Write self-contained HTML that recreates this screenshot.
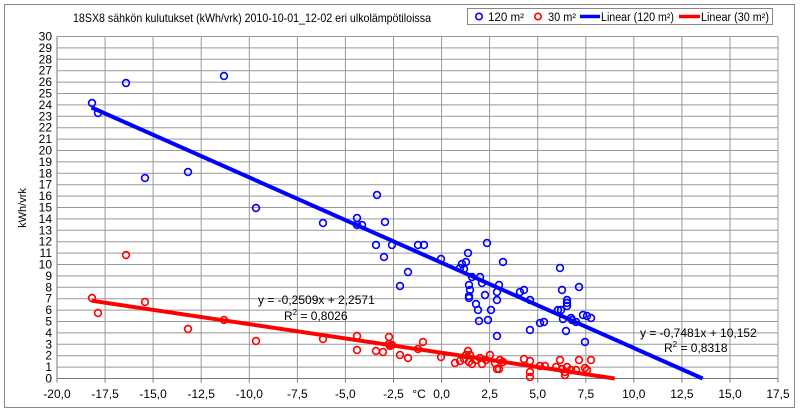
<!DOCTYPE html><html><head><meta charset="utf-8"><style>body{margin:0;background:#fff}svg{display:block;font-family:"Liberation Sans",sans-serif}</style></head><body>
<svg width="800" height="413" viewBox="0 0 800 413">
<rect x="4.5" y="4.5" width="790" height="403" fill="#fff" stroke="#888"/>
<g stroke="#999" stroke-width="1" fill="none">
<path d="M57 367.1H778M57 355.7H778M57 344.3H778M57 332.9H778M57 321.5H778M57 310.1H778M57 298.7H778M57 287.3H778M57 275.9H778M57 264.5H778M57 253.1H778M57 241.7H778M57 230.3H778M57 218.9H778M57 207.5H778M57 196.1H778M57 184.7H778M57 173.3H778M57 161.9H778M57 150.5H778M57 139.1H778M57 127.7H778M57 116.3H778M57 104.9H778M57 93.5H778M57 82.1H778M57 70.7H778M57 59.3H778M57 47.9H778M57 36.5H778"/>
<path d="M105.1 36.5V378.5M153.1 36.5V378.5M201.2 36.5V378.5M249.3 36.5V378.5M297.4 36.5V378.5M345.4 36.5V378.5M393.5 36.5V378.5M441.6 36.5V378.5M489.6 36.5V378.5M537.7 36.5V378.5M585.8 36.5V378.5M633.8 36.5V378.5M681.9 36.5V378.5M730 36.5V378.5M778 36.5V378.5"/>
</g>
<path d="M57 36.5V378.5H778" stroke="#777" fill="none"/>
<g stroke="#777"><path d="M57 378.5v4M105.1 378.5v4M153.1 378.5v4M201.2 378.5v4M249.3 378.5v4M297.4 378.5v4M345.4 378.5v4M393.5 378.5v4M441.6 378.5v4M489.6 378.5v4M537.7 378.5v4M585.8 378.5v4M633.8 378.5v4M681.9 378.5v4M730 378.5v4M778 378.5v4"/></g>
<g font-size="12" fill="#000" text-anchor="end">
<text x="52" y="382.5">0</text><text x="52" y="371.1">1</text><text x="52" y="359.7">2</text><text x="52" y="348.3">3</text><text x="52" y="336.9">4</text><text x="52" y="325.5">5</text><text x="52" y="314.1">6</text><text x="52" y="302.7">7</text><text x="52" y="291.3">8</text><text x="52" y="279.9">9</text><text x="52" y="268.5">10</text><text x="52" y="257.1">11</text><text x="52" y="245.7">12</text><text x="52" y="234.3">13</text><text x="52" y="222.9">14</text><text x="52" y="211.5">15</text><text x="52" y="200.1">16</text><text x="52" y="188.7">17</text><text x="52" y="177.3">18</text><text x="52" y="165.9">19</text><text x="52" y="154.5">20</text><text x="52" y="143.1">21</text><text x="52" y="131.7">22</text><text x="52" y="120.3">23</text><text x="52" y="108.9">24</text><text x="52" y="97.5">25</text><text x="52" y="86.1">26</text><text x="52" y="74.7">27</text><text x="52" y="63.3">28</text><text x="52" y="51.9">29</text><text x="52" y="40.5">30</text>
</g>
<g font-size="12" fill="#000" text-anchor="middle">
<text x="57" y="398">-20,0</text><text x="105.1" y="398">-17,5</text><text x="153.1" y="398">-15,0</text><text x="201.2" y="398">-12,5</text><text x="249.3" y="398">-10,0</text><text x="297.4" y="398">-7,5</text><text x="345.4" y="398">-5,0</text><text x="393.5" y="398">-2,5</text><text x="441.6" y="398">0,0</text><text x="489.6" y="398">2,5</text><text x="537.7" y="398">5,0</text><text x="585.8" y="398">7,5</text><text x="633.8" y="398">10,0</text><text x="681.9" y="398">12,5</text><text x="730" y="398">15,0</text><text x="778" y="398">17,5</text>
<text x="419" y="398">°C</text>
</g>
<text transform="translate(26 208) rotate(-90)" font-size="11" text-anchor="middle">kWh/vrk</text>
<text x="73" y="22" font-size="12" textLength="358" lengthAdjust="spacingAndGlyphs">18SX8 sähkön kulutukset (kWh/vrk) 2010-10-01_12-02 eri ulkolämpötiloissa</text>
<rect x="467.5" y="8.5" width="305" height="16" fill="#fff" stroke="#888"/>
<g font-size="11.5">
<circle cx="479" cy="16.5" r="3.2" fill="none" stroke="#00f" stroke-width="1.6"/><text x="488" y="21" textLength="36" lengthAdjust="spacingAndGlyphs">120 m²</text>
<circle cx="538" cy="16.5" r="3.2" fill="none" stroke="#f00" stroke-width="1.6"/><text x="548" y="21" textLength="28" lengthAdjust="spacingAndGlyphs">30 m²</text>
<path d="M580 16.5h20" stroke="#00f" stroke-width="3.5"/><text x="601" y="21" textLength="73" lengthAdjust="spacingAndGlyphs">Linear (120 m²)</text>
<path d="M679 16.5h21" stroke="#f00" stroke-width="3.5"/><text x="701" y="21" textLength="68" lengthAdjust="spacingAndGlyphs">Linear (30 m²)</text>
</g>
<g fill="none" stroke="#00f" stroke-width="1.6">
<circle cx="92" cy="103" r="3.4"/><circle cx="98" cy="113" r="3.4"/><circle cx="126" cy="83" r="3.4"/><circle cx="224" cy="76" r="3.4"/><circle cx="145" cy="178" r="3.4"/><circle cx="188" cy="172" r="3.4"/><circle cx="256" cy="208" r="3.4"/><circle cx="323" cy="223" r="3.4"/><circle cx="357" cy="218" r="3.4"/><circle cx="357" cy="225" r="3.4"/><circle cx="362" cy="225" r="3.4"/><circle cx="377" cy="195" r="3.4"/><circle cx="385" cy="222" r="3.4"/><circle cx="376" cy="245" r="3.4"/><circle cx="384" cy="257" r="3.4"/><circle cx="392" cy="245" r="3.4"/><circle cx="408" cy="272" r="3.4"/><circle cx="400" cy="286" r="3.4"/><circle cx="418" cy="245" r="3.4"/><circle cx="424" cy="245" r="3.4"/><circle cx="441" cy="259" r="3.4"/><circle cx="460" cy="268" r="3.4"/><circle cx="462" cy="264" r="3.4"/><circle cx="464" cy="269" r="3.4"/><circle cx="466" cy="262" r="3.4"/><circle cx="468" cy="253" r="3.4"/><circle cx="469" cy="285" r="3.4"/><circle cx="469" cy="296" r="3.4"/><circle cx="469" cy="298" r="3.4"/><circle cx="470" cy="290" r="3.4"/><circle cx="472" cy="277" r="3.4"/><circle cx="476" cy="304" r="3.4"/><circle cx="478" cy="310" r="3.4"/><circle cx="479" cy="321" r="3.4"/><circle cx="485" cy="295" r="3.4"/><circle cx="480" cy="277" r="3.4"/><circle cx="482" cy="283" r="3.4"/><circle cx="487" cy="243" r="3.4"/><circle cx="488" cy="320" r="3.4"/><circle cx="491" cy="310" r="3.4"/><circle cx="497" cy="292" r="3.4"/><circle cx="497" cy="300" r="3.4"/><circle cx="497" cy="336" r="3.4"/><circle cx="499" cy="285" r="3.4"/><circle cx="503" cy="262" r="3.4"/><circle cx="520" cy="292" r="3.4"/><circle cx="524" cy="290" r="3.4"/><circle cx="530" cy="300" r="3.4"/><circle cx="530" cy="330" r="3.4"/><circle cx="540" cy="323" r="3.4"/><circle cx="544" cy="322" r="3.4"/><circle cx="558" cy="310" r="3.4"/><circle cx="561" cy="310" r="3.4"/><circle cx="560" cy="268" r="3.4"/><circle cx="562" cy="290" r="3.4"/><circle cx="563" cy="319" r="3.4"/><circle cx="566" cy="331" r="3.4"/><circle cx="567" cy="300" r="3.4"/><circle cx="567" cy="306" r="3.4"/><circle cx="567" cy="303" r="3.4"/><circle cx="571" cy="318" r="3.4"/><circle cx="572" cy="320" r="3.4"/><circle cx="576" cy="322" r="3.4"/><circle cx="579" cy="287" r="3.4"/><circle cx="583" cy="315" r="3.4"/><circle cx="585" cy="342" r="3.4"/><circle cx="587" cy="316" r="3.4"/><circle cx="591" cy="318" r="3.4"/>
</g>
<g fill="none" stroke="#f00" stroke-width="1.6">
<circle cx="92" cy="298" r="3.4"/><circle cx="98" cy="313" r="3.4"/><circle cx="126" cy="255" r="3.4"/><circle cx="145" cy="302" r="3.4"/><circle cx="188" cy="329" r="3.4"/><circle cx="224" cy="320" r="3.4"/><circle cx="256" cy="341" r="3.4"/><circle cx="323" cy="339" r="3.4"/><circle cx="357" cy="336" r="3.4"/><circle cx="357" cy="350" r="3.4"/><circle cx="376" cy="351" r="3.4"/><circle cx="383" cy="352" r="3.4"/><circle cx="389" cy="344" r="3.4"/><circle cx="389" cy="337" r="3.4"/><circle cx="390" cy="346" r="3.4"/><circle cx="392" cy="345" r="3.4"/><circle cx="400" cy="355" r="3.4"/><circle cx="408" cy="358" r="3.4"/><circle cx="418" cy="349" r="3.4"/><circle cx="423" cy="342" r="3.4"/><circle cx="441" cy="357" r="3.4"/><circle cx="455" cy="363" r="3.4"/><circle cx="460" cy="361" r="3.4"/><circle cx="464" cy="359" r="3.4"/><circle cx="466" cy="355" r="3.4"/><circle cx="468" cy="351" r="3.4"/><circle cx="469" cy="362" r="3.4"/><circle cx="470" cy="355" r="3.4"/><circle cx="472" cy="364" r="3.4"/><circle cx="476" cy="360" r="3.4"/><circle cx="480" cy="358" r="3.4"/><circle cx="482" cy="364" r="3.4"/><circle cx="486" cy="360" r="3.4"/><circle cx="490" cy="355" r="3.4"/><circle cx="495" cy="363" r="3.4"/><circle cx="497" cy="369" r="3.4"/><circle cx="499" cy="369" r="3.4"/><circle cx="500" cy="360" r="3.4"/><circle cx="503" cy="362" r="3.4"/><circle cx="524" cy="359" r="3.4"/><circle cx="530" cy="361" r="3.4"/><circle cx="530" cy="372" r="3.4"/><circle cx="530" cy="377" r="3.4"/><circle cx="540" cy="366" r="3.4"/><circle cx="545" cy="366" r="3.4"/><circle cx="556" cy="367" r="3.4"/><circle cx="560" cy="360" r="3.4"/><circle cx="562" cy="369" r="3.4"/><circle cx="565" cy="372" r="3.4"/><circle cx="565" cy="375" r="3.4"/><circle cx="567" cy="367" r="3.4"/><circle cx="571" cy="370" r="3.4"/><circle cx="576" cy="370" r="3.4"/><circle cx="579" cy="360" r="3.4"/><circle cx="585" cy="368" r="3.4"/><circle cx="587" cy="370" r="3.4"/><circle cx="591" cy="360" r="3.4"/>
</g>
<path d="M91.6 107.5L702.6 378.5" stroke="#00f" stroke-width="4"/>
<path d="M91.6 300.7L614.7 378.5" stroke="#f00" stroke-width="4"/>
<g font-size="12" fill="#000">
<text x="258" y="304">y = -0,2509x + 2,2571</text>
<text x="284" y="320">R<tspan font-size="8" dy="-5">2</tspan><tspan dy="5"> = 0,8026</tspan></text>
<text x="640" y="337">y = -0,7481x + 10,152</text>
<text x="664" y="352">R<tspan font-size="8" dy="-5">2</tspan><tspan dy="5"> = 0,8318</tspan></text>
</g>
</svg>
</body></html>
